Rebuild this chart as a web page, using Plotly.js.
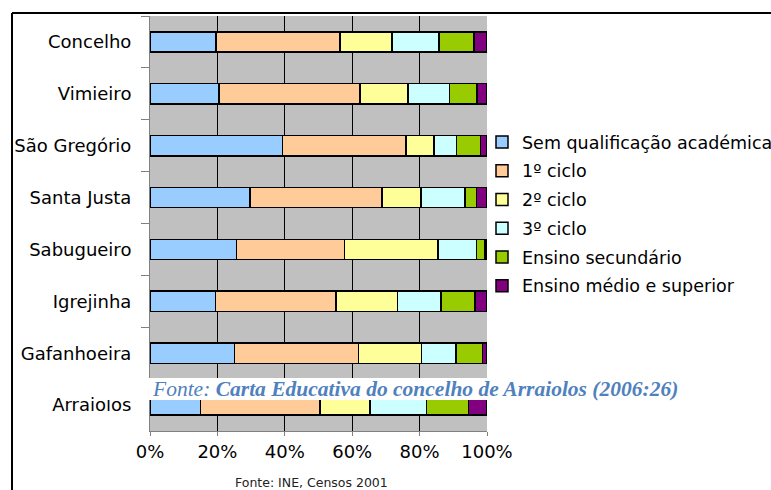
<!DOCTYPE html>
<html><head><meta charset="utf-8">
<script src="https://cdn.plot.ly/plotly-3.0.1.min.js"></script>
<style>html,body{margin:0;padding:0;background:#fff}#chart{width:771px;height:490px}</style>
</head><body><div id="chart"></div>
<script>
const categories = ["Concelho","Vimieiro","São Gregório","Santa Justa","Sabugueiro","Igrejinha","Gafanhoeira","Arraiolos"];
const seriesNames = ["Sem qualificação académica","1º ciclo","2º ciclo","3º ciclo","Ensino secundário","Ensino médio e superior"];
const semQualificacao = [19.6, 20.4, 39.3, 29.6, 25.6, 19.4, 25.0, 15.0];
const ciclo1 = [36.8, 41.9, 36.7, 39.2, 32.1, 35.8, 36.9, 35.4];
const ciclo2 = [15.4, 14.2, 8.3, 11.6, 27.7, 18.2, 18.7, 14.9];
const ciclo3 = [14.0, 12.4, 6.6, 13.1, 11.5, 13.0, 10.2, 16.8];
const secundario = [10.3, 8.1, 7.1, 3.4, 2.5, 10.1, 7.8, 12.4];
const medioSuperior = [3.9, 3.0, 2.0, 3.1, 0.6, 3.5, 1.4, 5.5];
const xTickVals = [0, 20, 40, 60, 80, 100];
const xTickText = ["0%","20%","40%","60%","80%","100%"];
const colors = ["#99CCFF","#FFCC99","#FFFF99","#CCFFFF","#99CC00","#800080"];
const allSeries = [semQualificacao, ciclo1, ciclo2, ciclo3, secundario, medioSuperior];

const traces = allSeries.map((vals, i) => ({
  type: "bar", orientation: "h",
  y: categories, x: vals, name: seriesNames[i],
  legendgroup: "g" + i,
  marker: {color: colors[i], line: {color: "#000", width: 1.5}},
  hoverinfo: "x+y+name"
}));

const W = 337, H = 415, L = 150, T = 16;
const px = v => (v - L) / W;
const py = v => (T + H - v) / H;

const layout = {
  width: 771, height: 490,
  margin: {l: L, r: 771 - L - W, t: T, b: 490 - T - H, pad: 0, autoexpand: false},
  paper_bgcolor: "#fff", plot_bgcolor: "#C0C0C0",
  barmode: "stack", bargap: 0.61,
  showlegend: true,
  font: {family: "DejaVu Sans", size: 18, color: "#000"},
  xaxis: {
    range: [0, 100], tickvals: xTickVals, ticktext: xTickText,
    showgrid: true, gridcolor: "#000", gridwidth: 1,
    showline: true, linecolor: "#808080", linewidth: 1,
    ticks: "outside", ticklen: 4, tickcolor: "#808080",
    zeroline: false, fixedrange: true, automargin: false,
    tickfont: {family: "DejaVu Sans", size: 18, color: "#000"}
  },
  yaxis: {
    type: "category", categoryorder: "array", categoryarray: categories,
    autorange: "reversed", automargin: false,
    showgrid: false, showline: true, linecolor: "#808080", linewidth: 1,
    ticks: "outside", ticklen: 8, tickcolor: "#808080", tickson: "boundaries",
    ticklabelstandoff: 14,
    tickfont: {family: "DejaVu Sans", size: 18, color: "#000"}
  },
  legend: {
    x: px(482), xanchor: "left", y: py(124), yanchor: "top",
    traceorder: "grouped", tracegroupgap: 3,
    font: {family: "DejaVu Sans", size: 17.5, color: "#000"},
    bgcolor: "rgba(0,0,0,0)", borderwidth: 0
  },
  shapes: [
    {type: "line", xref: "paper", yref: "paper", x0: px(12), x1: px(771), y0: py(13), y1: py(13), line: {color: "#000", width: 2}},
    {type: "line", xref: "paper", yref: "paper", x0: px(12), x1: px(12), y0: py(13), y1: py(490), line: {color: "#000", width: 2}},
    {type: "rect", xref: "paper", yref: "paper", layer: "above", x0: px(95), x1: px(680), y0: py(400), y1: py(378),
     fillcolor: "#fff", line: {width: 0}}
  ],
  annotations: [
    {xref: "paper", yref: "paper", x: px(150), y: py(389), xanchor: "left", yanchor: "middle",
     showarrow: false, borderpad: 1,
     text: "<i>Fonte:</i> <b><i>Carta Educativa do concelho de Arraiolos (2006:26)</i></b>",
     font: {family: "Liberation Serif", size: 21.5, color: "#4F81BD"}},
    {xref: "paper", yref: "paper", x: px(311), y: py(482), xanchor: "center", yanchor: "middle",
     showarrow: false, text: "Fonte: INE, Censos 2001",
     font: {family: "DejaVu Sans", size: 12.5, color: "#222"}}
  ]
};
Plotly.newPlot("chart", traces, layout, {displayModeBar: false, staticPlot: true});
</script></body></html>
